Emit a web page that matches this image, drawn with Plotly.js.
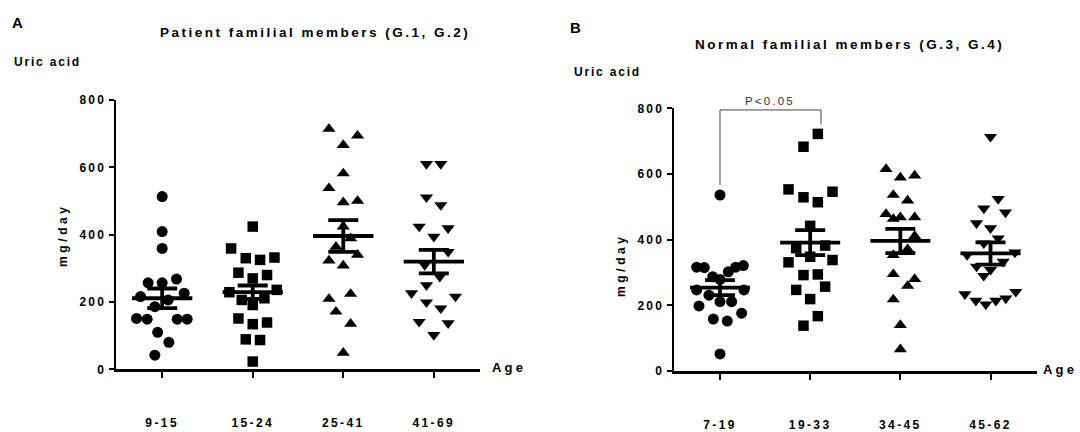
<!DOCTYPE html>
<html>
<head>
<meta charset="utf-8">
<script src="https://cdn.plot.ly/plotly-3.0.1.min.js"></script>
<style>html,body{margin:0;padding:0;background:#fff;}#chart{width:1080px;height:432px;}</style>
</head>
<body>
<div id="chart"></div>
<script>
// ---------- DATA ----------
const catsA = ['9-15', '15-24', '25-41', '41-69'];
const catsB = ['7-19', '19-33', '34-45', '45-62'];

// Panel A: Patient familial members — uric acid (mg/day) and horizontal jitter (category units)
const a1Vals = [513, 409, 359, 257, 257, 268, 216, 226, 186, 206, 151, 149, 149, 149, 110, 80, 42];
const a1Jit  = [0, 0, 0, -0.155, 0, 0.158, -0.239, 0.243, -0.081, 0.066, -0.283, -0.166, 0.166, 0.276, -0.05, 0.074, -0.081];
const a2Vals = [424, 359, 330, 325, 332, 287, 280, 270, 229, 236, 206, 211, 191, 151, 134, 139, 89, 87, 23];
const a2Jit  = [0, -0.239, -0.077, 0.081, 0.24, -0.158, 0.158, 0, -0.258, 0.265, -0.121, 0.129, 0, -0.158, 0, 0.158, -0.077, 0.081, 0];
const a3Vals = [714, 694, 666, 582, 538, 496, 500, 424, 389, 364, 340, 323, 308, 209, 224, 171, 135, 49];
const a3Jit  = [-0.158, 0.158, 0, 0, -0.158, 0, 0.158, 0, 0.081, -0.081, 0.158, -0.158, 0, -0.158, 0.081, -0.081, 0.081, 0];
const a4Vals = [610, 610, 511, 488, 424, 419, 394, 349, 310, 275, 250, 226, 216, 199, 181, 141, 137, 102];
const a4Jit  = [-0.081, 0.077, -0.081, 0.077, -0.162, 0.158, 0, 0.158, -0.1, 0.066, -0.081, -0.246, 0.239, -0.081, 0.077, -0.162, 0.158, 0];
const meanA = [211, 229, 396, 320];
const semA  = [29, 20, 47, 35];

// Panel B: Normal familial members
const b1Vals = [536, 316, 315, 287, 279, 302, 316, 321, 247, 231, 247, 211, 198, 211, 176, 158, 152, 52];
const b1Jit  = [0, -0.259, -0.174, -0.081, 0, 0.092, 0.174, 0.259, -0.259, -0.122, 0.266, 0, -0.233, 0.129, 0.24, -0.074, 0.081, 0];
const b2Vals = [722, 683, 553, 529, 514, 546, 442, 374, 382, 348, 331, 338, 292, 294, 247, 257, 219, 167, 138];
const b2Jit  = [0.085, -0.074, -0.24, -0.074, 0.085, 0.248, 0, -0.155, 0.166, 0, -0.24, 0.248, -0.074, 0.085, -0.155, 0.166, 0, 0.085, -0.074];
const b3Vals = [615, 589, 595, 536, 519, 478, 463, 468, 468, 411, 371, 353, 295, 280, 259, 218, 140, 66];
const b3Jit  = [-0.159, 0, 0.159, -0.078, 0.081, -0.159, -0.078, 0, 0.159, 0.159, 0.081, -0.078, -0.078, 0.159, 0.081, -0.078, 0, 0];
const b4Vals = [713, 524, 495, 483, 450, 435, 404, 389, 353, 361, 318, 308, 290, 333, 234, 214, 203, 214, 221, 241];
const b4Jit  = [0, 0.085, -0.074, 0.166, -0.155, 0, 0.085, -0.074, -0.259, 0.27, -0.155, 0, -0.075, 0.14, -0.284, -0.163, -0.052, 0.059, 0.17, 0.281];
const meanB = [254, 391, 396, 358];
const semB  = [23, 38, 37, 34];

// Significance bracket (panel B, between groups 1 and 2)
const pLabel = 'P&lt;0.05';
const pGroups = [0, 1];
const pRightShift = 0.12;
const pTop = 795, pLeftEnd = 566, pRightEnd = 751;

const yTicks = [0, 200, 400, 600, 800];

// ---------- STYLE ----------
const FONT = 'Liberation Sans, Arial, sans-serif';
const sp = (t, ls) => '<span style="letter-spacing:' + ls + 'px">' + t + '</span>';
const symbols = ['circle', 'square', 'triangle-up', 'triangle-down'];
const sizes = [11, 10.5, 11.5, 11.5];

const traces = [];
function addPanel(groups, means, sems, xa, ya) {
  groups.forEach((g, i) => {
    traces.push({
      type: 'scatter', mode: 'markers', xaxis: xa, yaxis: ya, cliponaxis: false,
      x: g[0].map((v, k) => i + g[1][k]), y: g[0],
      marker: {symbol: symbols[i], size: sizes[i], color: '#000', line: {width: 0}},
      hoverinfo: 'skip'
    });
  });
  const mx = [], my = [];
  means.forEach((m, i) => { mx.push(i - 0.333, i + 0.333, null); my.push(m, m, null); });
  traces.push({type: 'scatter', mode: 'lines', xaxis: xa, yaxis: ya, cliponaxis: false,
    x: mx, y: my, line: {color: '#000', width: 3.8}, hoverinfo: 'skip'});
  traces.push({type: 'scatter', mode: 'markers', xaxis: xa, yaxis: ya, cliponaxis: false,
    x: means.map((m, i) => i), y: means, marker: {size: 1, opacity: 0},
    error_y: {type: 'data', array: sems, visible: true, color: '#000', thickness: 3.8, width: 15},
    hoverinfo: 'skip'});
}
addPanel([[a1Vals, a1Jit], [a2Vals, a2Jit], [a3Vals, a3Jit], [a4Vals, a4Jit]], meanA, semA, 'x', 'y');
addPanel([[b1Vals, b1Jit], [b2Vals, b2Jit], [b3Vals, b3Jit], [b4Vals, b4Jit]], meanB, semB, 'x2', 'y2');

// bracket drawn as a line trace from the stored values
traces.push({type: 'scatter', mode: 'lines', xaxis: 'x2', yaxis: 'y2', cliponaxis: false,
  x: [pGroups[0], pGroups[0], pGroups[1] + pRightShift, pGroups[1] + pRightShift],
  y: [pLeftEnd, pTop, pTop, pRightEnd],
  line: {color: '#444', width: 1}, hoverinfo: 'skip'});

const tickFont = {family: FONT, size: 12, color: '#000', weight: 700};
function xAxis(domain, cats, anchor) {
  return {domain: domain, range: [-0.51, 3.51], anchor: anchor, showgrid: false, zeroline: false,
    showline: true, linecolor: '#000', linewidth: 2.5, ticks: 'outside', ticklen: 6, tickwidth: 2,
    tickcolor: '#000', tickvals: [0, 1, 2, 3], ticktext: cats.map(c => sp(c, 2.4)),
    tickfont: tickFont, ticklabelstandoff: 35, fixedrange: true};
}
function yAxis(domain, anchor) {
  return {domain: domain, range: [0, 800], anchor: anchor, showgrid: false, zeroline: false,
    showline: true, linecolor: '#000', linewidth: 2.5, ticks: 'outside', ticklen: 5, tickwidth: 2,
    tickcolor: '#000', tickvals: yTicks, ticktext: yTicks.map(v => sp(String(v), 2.2)),
    tickfont: tickFont, fixedrange: true};
}

const H = 432, W = 1080;
const py = px => (H - px) / H;
const pxX = px => px / W;

function txt(text, x, y, size, opts) {
  return Object.assign({text: text, xref: 'paper', yref: 'paper', x: x, y: y, showarrow: false,
    font: {family: FONT, size: size, color: '#000', weight: 700}, xanchor: 'left', yanchor: 'middle'}, opts || {});
}

const annotations = [
  txt('A', pxX(10), py(22), 15),
  txt(sp('Patient familial members (G.1, G.2)', 2.5), pxX(315), py(32), 13.5, {xanchor: 'center'}),
  txt(sp('Uric acid', 1.8), pxX(12), py(62), 12),
  txt(sp('mg/day', 3.6), pxX(63), py(235), 12, {xanchor: 'center', textangle: -90}),
  txt(sp('Age', 3.2), pxX(490), py(367), 13),
  txt('B', pxX(568), py(28), 15),
  txt(sp('Normal familial members (G.3, G.4)', 2.5), pxX(849), py(45), 13.5, {xanchor: 'center'}),
  txt(sp('Uric acid', 1.8), pxX(572), py(72), 12),
  txt(sp('mg/day', 3.6), pxX(621), py(265), 12, {xanchor: 'center', textangle: -90}),
  txt(sp('Age', 3.2), pxX(1041), py(369), 13),
  {text: sp(pLabel, 2.2), xref: 'x2', yref: 'y2', x: (pGroups[0] + pGroups[1] + pRightShift) / 2, y: pTop + 4,
   showarrow: false, xanchor: 'center', yanchor: 'bottom',
   font: {family: FONT, size: 11.5, color: '#333', weight: 400}}
];

const layout = {
  width: W, height: H, margin: {l: 0, r: 0, t: 0, b: 0}, paper_bgcolor: '#fff', plot_bgcolor: '#fff',
  showlegend: false, hovermode: false,
  xaxis: xAxis([pxX(116), pxX(480)], catsA, 'y'),
  yaxis: yAxis([py(369.3), py(100)], 'x'),
  xaxis2: xAxis([pxX(674), pxX(1036.5)], catsB, 'y2'),
  yaxis2: yAxis([py(371), py(108.3)], 'x2'),
  annotations: annotations
};

Plotly.newPlot('chart', traces, layout, {staticPlot: true, displayModeBar: false});
</script>
</body>
</html>
